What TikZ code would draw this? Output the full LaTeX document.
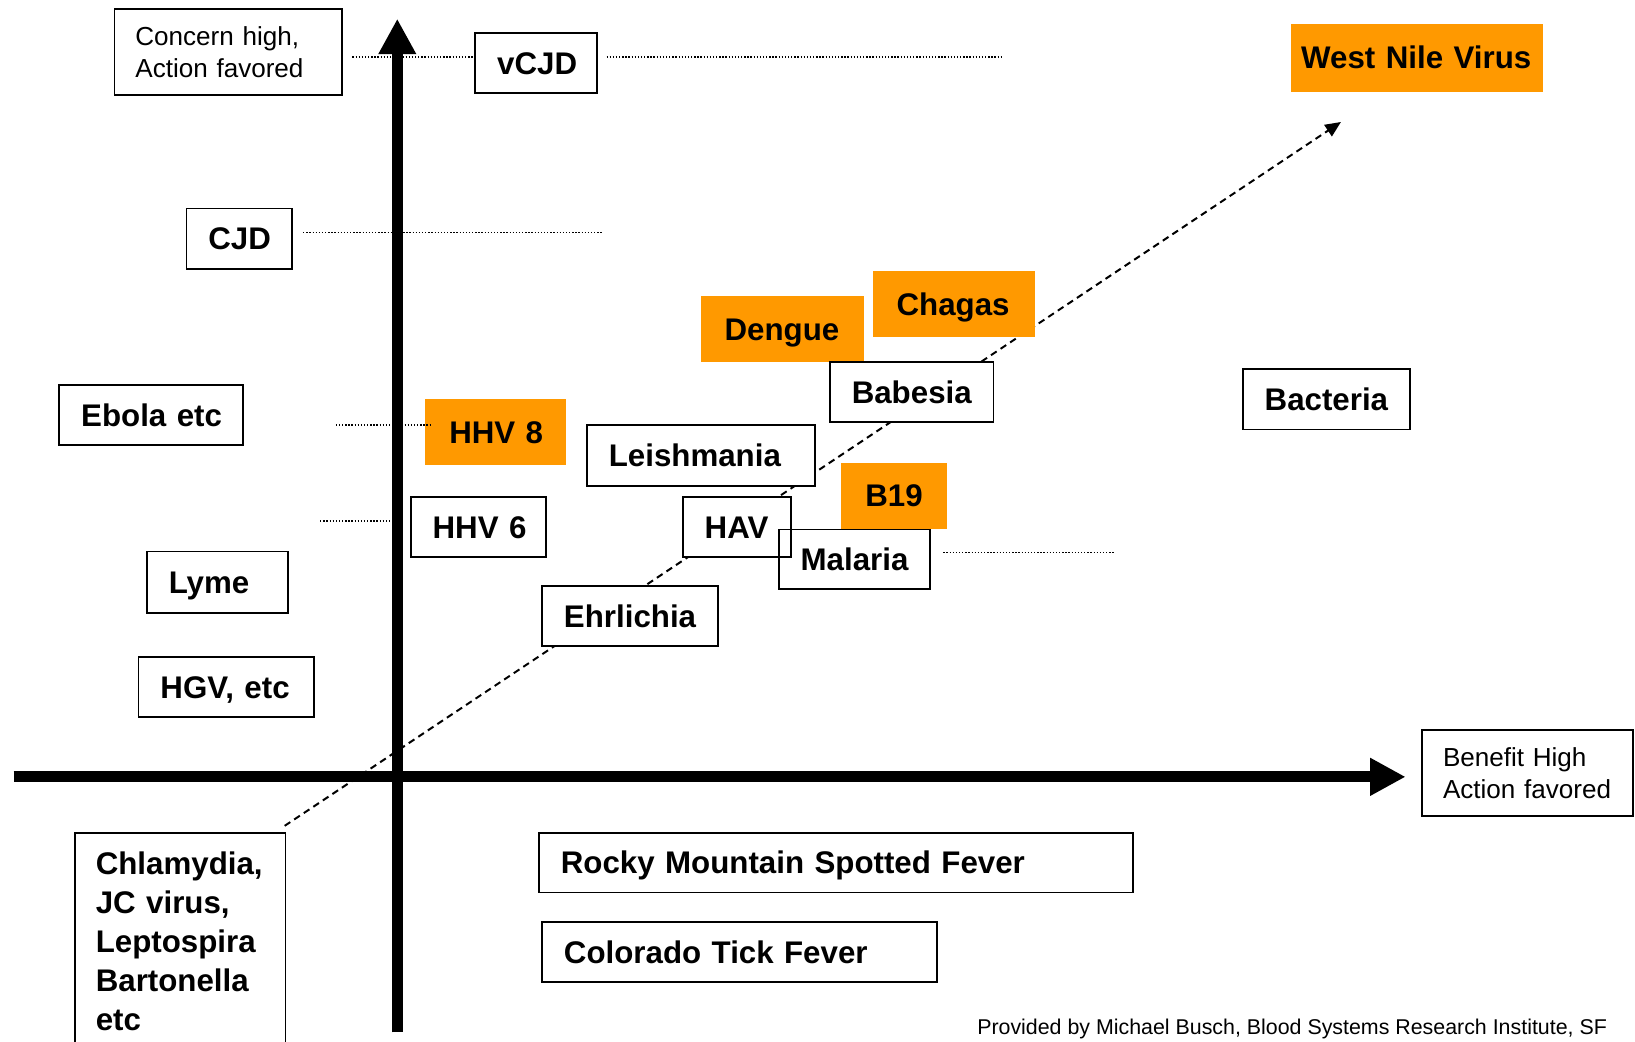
\documentclass[tikz,border=0pt]{standalone}
\usepackage{fontspec}
\setmainfont{Liberation Sans}
\usepackage{tikz}
\usetikzlibrary{arrows.meta,calc}
\definecolor{bsorange}{RGB}{255,153,0}
\newcommand{\boxfont}{\fontsize{30}{37.4}\selectfont\bfseries}
\newcommand{\notefont}{\fontsize{25}{30.5}\selectfont}
\tikzstyle{dbox} = [draw, line width=1.7pt, fill=white, anchor=north west, align=left, inner xsep=21pt, inner ysep=0pt, text height=21.5pt, text depth=0pt, font=\boxfont]
\tikzstyle{hotbox} = [dbox, draw=none, fill=bsorange, inner xsep=23pt]
\tikzstyle{notebox} = [draw, line width=1.7pt, fill=white, anchor=north west, align=left, inner xsep=20pt, inner ysep=0pt, font=\notefont]
\tikzstyle{dotline} = [line width=1.3pt, dash pattern=on 1.3pt off 1.7pt]
\tikzstyle{axis} = [line width=10.5pt, -{Triangle[length=34pt,width=34pt]}]
\tikzstyle{trend} = [line width=1.9pt, dash pattern=on 6.5pt off 4.5pt, -{Triangle[length=15pt,width=13pt]}]

\begin{document}
\begin{tikzpicture}[x=1pt, y=-1pt]
\path[use as bounding box, fill=white] (0,0) rectangle (1568,999);

% Trend line (behind the boxes)
\coordinate (t0) at (273,792);
\coordinate (t1) at (1286,117);
\draw[trend] (t0) -- (t1);

% Axes
\coordinate (ybot) at (381,990);
\coordinate (ytop) at (381,18);
\coordinate (xleft) at (13,745);
\coordinate (xright) at (1348,745);
\draw[axis] (ybot) -- (ytop);
\draw[axis] (xleft) -- (xright);

% Axis notes
\node[notebox, text width=178pt, minimum height=82pt] (concern) at (109,8) {Concern high,\\Action favored};
\node[notebox, text width=162pt, minimum height=83pt] (benefit) at (1363,699) {Benefit High\\Action favored};

% Upper left
\node[dbox, text width=75pt, minimum height=57pt] (vcjd) at (455,31) {vCJD};
\node[dbox, text width=59pt, minimum height=58pt] (cjd) at (178,199) {CJD};
\node[dbox, text width=134pt, minimum height=58pt] (ebola) at (56,368) {Ebola~etc};
\node[dbox, text width=93pt, minimum height=59pt] (lyme) at (140,528) {Lyme};
\node[dbox, text width=126pt, minimum height=58pt] (hgv) at (132,629) {HGV,~etc};

% Upper right
\node[hotbox, inner xsep=10pt, text width=222pt, minimum height=65pt] (wnv) at (1237,22) {West~Nile~Virus};
\node[hotbox, text width=89pt, minimum height=63pt] (hhv8) at (407,382) {HHV~8};
\node[dbox, text width=88pt, minimum height=57pt] (hhv6) at (393,476) {HHV~6};
\node[hotbox, text width=111pt, minimum height=63pt] (dengue) at (671,283) {Dengue};
\node[hotbox, text width=110pt, minimum height=63pt] (chagas) at (836,259) {Chagas};
\node[dbox, text width=115pt, minimum height=58pt] (babesia) at (795,346) {Babesia};
\node[dbox, text width=118pt, minimum height=58pt] (bacteria) at (1191,353) {Bacteria};
\node[dbox, text width=177pt, minimum height=58pt] (leish) at (562,407) {Leishmania};
\node[hotbox, text width=55pt, minimum height=63pt] (b19) at (806,443) {B19};
\node[dbox, text width=62pt, minimum height=57pt] (hav) at (654,476) {HAV};
\node[dbox, fill=none, text width=103pt, minimum height=57pt] (malaria) at (746,507) {Malaria};
\node[dbox, text width=127pt, minimum height=58pt] (ehrl) at (519,561) {Ehrlichia};

% Below the axis
\node[notebox, font=\boxfont, text width=162pt, inner ysep=18.5pt] (chl) at (71,798) {Chlamydia,\\JC virus,\\Leptospira\\Bartonella\\etc};
\node[dbox, text width=528pt, minimum height=57pt] (rmsf) at (516,798) {Rocky~Mountain~Spotted~Fever};
\node[dbox, text width=337pt, minimum height=58pt] (ctf) at (519,883) {Colorado~Tick~Fever};

% Dotted guides
\coordinate (g1) at (338,54.5);
\coordinate (g1e) at (962,54.5);
\draw[dotline] (g1) -- (g1 -| vcjd.west);
\draw[dotline] ($(vcjd.east |- g1)+(8,0)$) -- (g1e);
\coordinate (g2) at (578,223);
\draw[dotline] ($(cjd.east |- g2)+(10,0)$) -- (g2);
\coordinate (g3) at (322,407.5);
\draw[dotline] (g3) -- ($(hhv8.west |- g3)+(6,0)$);
\coordinate (g4a) at (307,499.5);
\coordinate (g4b) at (376,499.5);
\draw[dotline] (g4a) -- (g4b);
\coordinate (g5) at (1069,530);
\draw[dotline] ($(malaria.east |- g5)+(12,0)$) -- (g5);

% Credit
\node[anchor=base west, inner sep=0pt, font=\fontsize{20.5}{24}\selectfont] (credit) at (937,992.5) {Provided by Michael Busch, Blood Systems Research Institute, SF};
\end{tikzpicture}
\end{document}
